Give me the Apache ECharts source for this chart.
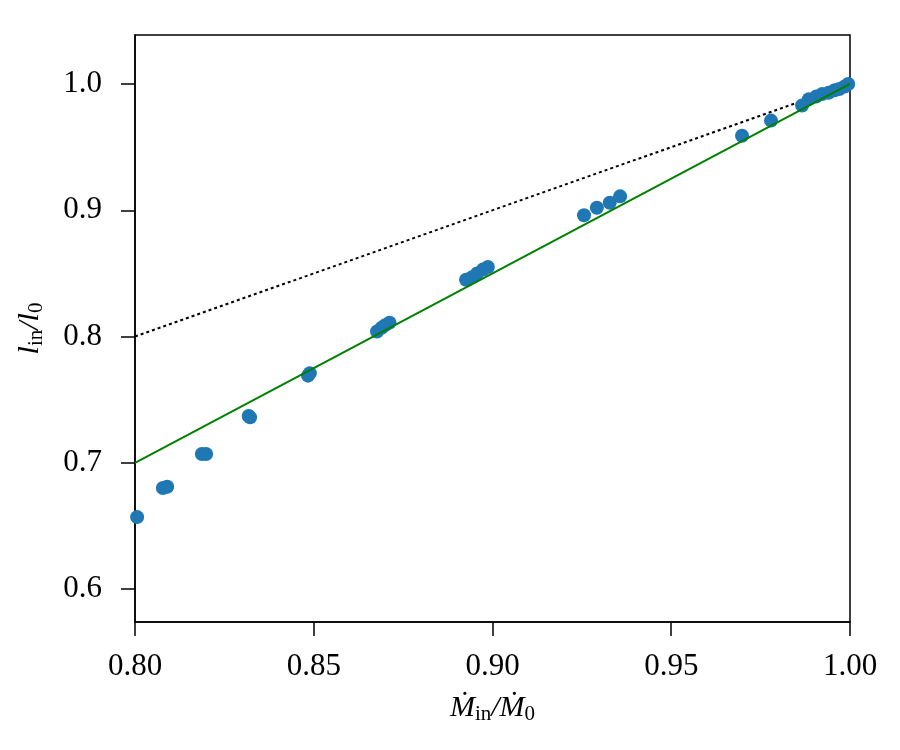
<!DOCTYPE html>
<html>
<head>
<meta charset="utf-8">
<script src="https://cdn.jsdelivr.net/npm/echarts@6/dist/echarts.min.js"></script>
<style>
  html, body { margin: 0; padding: 0; background: #fff; }
  #main { width: 900px; height: 750px; }
</style>
</head>
<body>
<div id="main"></div>
<script>
// measured points (Mdot_in/Mdot_0 , l_in/l_0)
var mdotRatio = [0.8006, 0.8078, 0.8090, 0.8187, 0.8199, 0.8318, 0.8322, 0.8484, 0.8489,
  0.8677, 0.8690, 0.8700, 0.8712, 0.8926, 0.8943, 0.8957, 0.8973, 0.8987,
  0.9256, 0.9292, 0.9328, 0.9357, 0.9698, 0.9779, 0.9866, 0.9885, 0.9905,
  0.9922, 0.9940, 0.9957, 0.9970, 0.9985, 0.9995];
var lRatio = [0.657, 0.680, 0.681, 0.707, 0.707, 0.737, 0.736, 0.769, 0.771,
  0.804, 0.807, 0.809, 0.811, 0.845, 0.847, 0.850, 0.853, 0.855,
  0.896, 0.902, 0.906, 0.911, 0.959, 0.971, 0.983, 0.988, 0.990,
  0.992, 0.993, 0.995, 0.996, 0.998, 1.000];
// reference lines
var fitLine = [[0.8, 0.7], [1.0, 1.0]];
var unityLine = [[0.8, 0.8], [1.0, 1.0]];
var xTicks = [0.8, 0.85, 0.9, 0.95, 1.0];
var yTicks = [0.6, 0.7, 0.8, 0.9, 1.0];

var pts = mdotRatio.map(function (x, i) { return [x, lRatio[i]]; });
var serif = 'Liberation Serif';

var chart = echarts.init(document.getElementById('main'));
chart.setOption({
  backgroundColor: '#fff',
  animation: false,
  grid: {
    left: 135, right: 50, top: 35, bottom: 128,
    outerBoundsMode: 'none', containLabel: false,
    show: true, borderColor: '#000', borderWidth: 1.5
  },
  xAxis: {
    type: 'value', min: 0.8, max: 1.0,
    splitLine: { show: false },
    axisLine: { show: true, lineStyle: { color: '#000', width: 1.5 } },
    axisTick: { show: true, length: 14, lineStyle: { color: '#000', width: 1.5 }, customValues: xTicks },
    axisLabel: {
      customValues: xTicks, margin: 29,
      color: '#000', fontFamily: serif, fontSize: 31,
      formatter: function (v) { return v.toFixed(2); }
    },
    name: '{i|Ṁ}{s|in}{i|/Ṁ}{s|0}',
    nameLocation: 'middle', nameGap: 70,
    nameTextStyle: {
      rich: {
        i: { fontFamily: serif, fontStyle: 'italic', fontSize: 30, color: '#000' },
        s: { fontFamily: serif, fontSize: 21, color: '#000', verticalAlign: 'bottom', padding: [12, 0, 0, 0] }
      }
    }
  },
  yAxis: {
    type: 'value', min: 0.5739, max: 1.0388,
    splitLine: { show: false },
    axisLine: { show: true, lineStyle: { color: '#000', width: 1.5 } },
    axisTick: { show: true, length: 14, lineStyle: { color: '#000', width: 1.5 }, customValues: yTicks },
    axisLabel: {
      customValues: yTicks, margin: 33,
      color: '#000', fontFamily: serif, fontSize: 31,
      formatter: function (v) { return v.toFixed(1); }
    },
    name: '{i|l}{s|in}{i|/l}{s|0}',
    nameLocation: 'middle', nameGap: 88, nameRotate: 90,
    nameTextStyle: {
      rich: {
        i: { fontFamily: serif, fontStyle: 'italic', fontSize: 30, color: '#000' },
        s: { fontFamily: serif, fontSize: 21, color: '#000', verticalAlign: 'bottom', padding: [12, 0, 0, 0] }
      }
    }
  },
  series: [
    {
      type: 'line', data: unityLine, symbol: 'none', z: 3,
      lineStyle: { color: '#000', width: 2, type: [3, 3] }
    },
    {
      type: 'scatter', data: pts, symbolSize: 14, z: 4,
      itemStyle: { color: '#1f77b4', opacity: 1 }
    },
    {
      type: 'line', data: fitLine, symbol: 'none', z: 5,
      lineStyle: { color: '#008000', width: 2 }
    }
  ]
});
</script>
</body>
</html>
